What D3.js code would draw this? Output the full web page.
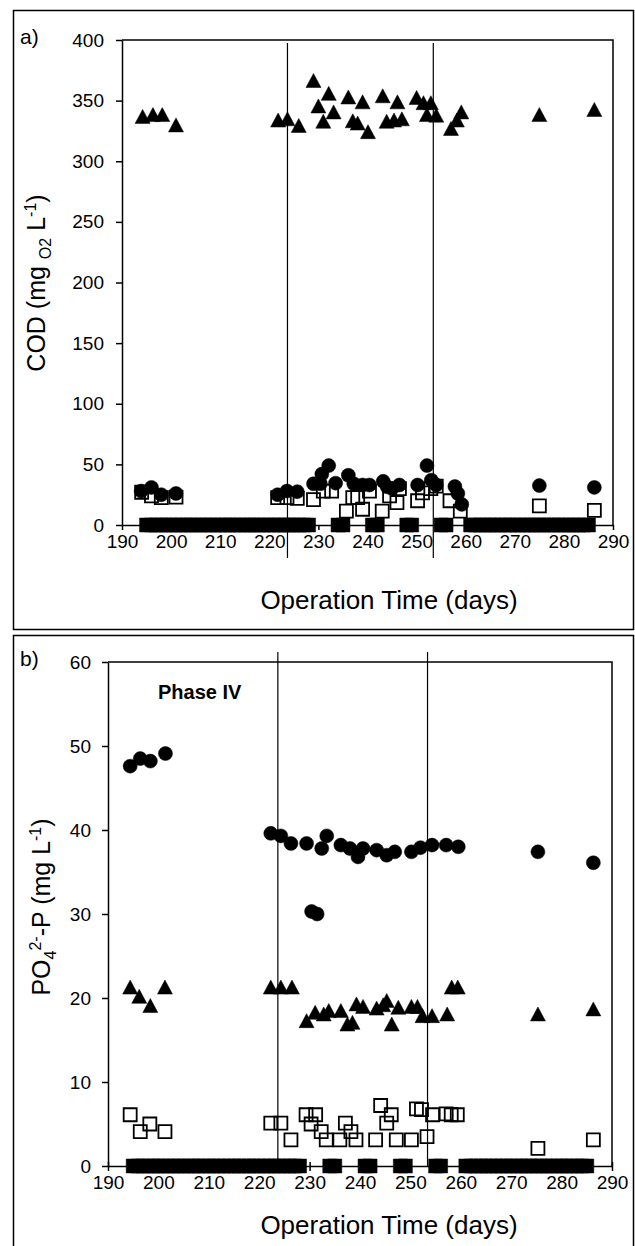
<!DOCTYPE html>
<html>
<head>
<meta charset="utf-8">
<script src="https://cdnjs.cloudflare.com/ajax/libs/d3/7.8.5/d3.min.js"></script>
<style>
body { margin: 0; background: #fff; }
svg { display: block; font-family: "Liberation Sans", Arial, sans-serif; }
</style>
</head>
<body>
<svg id="chart" width="635" height="1246"></svg>
<script>
// ---- data ----
const xTicks = [190, 200, 210, 220, 230, 240, 250, 260, 270, 280, 290];
const codTicks = [0, 50, 100, 150, 200, 250, 300, 350, 400];
const po4Ticks = [0, 10, 20, 30, 40, 50, 60];
const phaseLines = [223.7, 253.4];

// filled squares sitting on zero (same days in both panels)
const zeroDays = [195, 196, 197, 198, 199, 200, 201, 202, 203, 204, 205, 206, 207, 208, 209, 210, 211,
    212, 213, 214, 215, 216, 217, 218, 219, 220, 221, 222, 223, 224, 225, 226, 227, 228,
    234, 235, 241, 242, 248, 249, 255, 256,
    261, 262, 263, 264, 265, 266, 267, 268, 269, 270, 271, 272, 273, 274, 275, 276, 277,
    278, 279, 280, 281, 282, 283, 284, 285];

// a) COD
const codTriDays = [194.2, 196.3, 198.2, 201, 221.8, 223.7, 226, 229, 230, 231, 232.1, 233.1, 236.1, 237, 238,
    239, 240.1, 243.1, 243.9, 245.4, 246.1, 247, 250, 251.4, 252.1, 252.9, 254, 257, 258.2, 259.1, 275, 286.2];
const codTriVals = [337, 338.5, 338.5, 330, 334, 335, 329.5, 366.6, 345.6, 333, 356, 340.7, 353, 333.4, 331.5,
    349, 324.4, 354, 333, 334, 349, 335, 352.6, 348.3, 338.5, 348.3, 338, 327, 334, 340.7, 338.5, 342.7];

const codCircDays = [193.9, 196, 198, 201, 221.7, 223.6, 225.7, 229, 230.4, 230.7, 232.1, 233.5, 236.1, 237.2,
    239, 240.4, 243.2, 244, 245, 246.5, 250.2, 252.1, 253, 254, 257.8, 258.4, 259.2, 275, 286.2];
const codCircVals = [28, 31, 25, 26, 25, 28, 27.5, 34, 34, 42, 49, 34.5, 41, 34,
    33, 33, 36, 31.5, 30, 33, 33, 49, 37, 33, 31.7, 26, 17, 32.5, 31];

const codSqDays = [194, 196, 198, 201, 221.7, 223.6, 225.7, 229, 231, 232.7, 235.7, 237, 238, 239, 240.4,
    243, 244.5, 246, 246.5, 250.2, 251.2, 252.9, 254, 256.8, 258.9, 275, 286.2];
const codSqVals = [27, 24, 22.5, 23, 22.5, 22.5, 22, 21, 28, 28, 11.4, 22.5, 22.5, 13, 28,
    11.4, 24, 18.5, 30, 20, 26.5, 30, 32, 20, 11.4, 15.7, 12];

// b) PO4-P
const poCircDays = [194.4, 196.4, 198.4, 201.4, 222.3, 224.3, 226.3, 229.4, 230.4, 231.5, 232.4, 233.4,
    236.2, 238, 239.6, 240.6, 243.3, 245.3, 246.9, 250.2, 252, 254.3, 257.1, 259.5, 275.3, 286.3];
const poCircVals = [47.6, 48.5, 48.2, 49.1, 39.6, 39.3, 38.4, 38.4, 30.3, 30, 37.8, 39.3,
    38.2, 37.8, 36.8, 37.8, 37.6, 37, 37.4, 37.4, 37.9, 38.2, 38.2, 38, 37.4, 36.1];

const poTriDays = [194.4, 196.2, 198.4, 201.3, 222.3, 224.3, 226.5, 229.4, 231.1, 232.8, 233.8, 236.2, 237.5,
    238.5, 239.3, 240.6, 243.3, 244.6, 245.3, 246.3, 247.6, 250.2, 251.4, 252.4, 254.3, 257.3, 258.2, 259.4,
    275.3, 286.3];
const poTriVals = [21.3, 20.2, 19.1, 21.3, 21.3, 21.3, 21.3, 17.3, 18.3, 18.1, 18.5, 18.5, 16.9,
    17.1, 19.3, 19, 18.8, 19.2, 19.7, 16.9, 18.9, 19, 19, 17.9, 17.9, 18.1, 21.3, 21.3,
    18.1, 18.7];

const poSqDays = [194.4, 196.4, 198.3, 201.3, 222.3, 224.3, 226.3, 229.3, 230.3, 231.2, 232.3, 233.3, 236,
    237.1, 238.2, 239.2, 243.1, 244.1, 245.3, 246.2, 247.2, 250.2, 251.2, 252.2, 253.3, 254.4, 257.1, 258.1,
    259.3, 275.3, 286.3];
const poSqVals = [6.1, 4.1, 5, 4.1, 5.1, 5.1, 3.1, 6.1, 5, 6.1, 4.1, 3.1, 3.1,
    5.1, 4.1, 3.1, 3.1, 7.2, 5.1, 6.1, 3.1, 3.1, 6.8, 6.7, 3.5, 6.1, 6.2, 6.1,
    6.1, 2.1, 3.1];

const svg = d3.select('svg#chart');

// marker paths centred on (0,0)
const marker = {
    tri: 'M0,-7 L7.5,7 L-7.5,7 Z',
    circ: d3.symbol().type(d3.symbolCircle).size(Math.PI * 7 * 7)(),
    sq: 'M-6.5,-6.5 H6.5 V6.5 H-6.5 Z',
    zero: 'M-7,-7 H7 V7 H-7 Z',
};

const drawSeries = (g, x, y, days, vals, kind) => {
    const pts = days.map((d, i) => [d, vals[i]]);
    g.append('g').selectAll('path').data(pts).enter().append('path')
        .attr('d', marker[kind])
        .attr('transform', d => 'translate(' + x(d[0]) + ',' + y(d[1]) + ')')
        .attr('fill', kind == 'sq' ? 'none' : '#000')
        .attr('stroke', '#000')
        .attr('stroke-width', kind == 'sq' ? 1.8 : 0.5);
};

const drawPanel = (cfg) => {
    const g = svg.append('g');
    const x = d3.scaleLinear().domain([190, 290]).range([cfg.left, cfg.right]);
    const y = d3.scaleLinear().domain(cfg.yDomain).range([cfg.bottom, cfg.top]);

    // outer frame
    g.append('rect')
        .attr('x', 13.5).attr('y', cfg.boxTop)
        .attr('width', 620).attr('height', cfg.boxHeight)
        .attr('fill', 'none').attr('stroke', '#000').attr('stroke-width', 1.5);

    // plot area top / right border
    g.append('path')
        .attr('d', 'M' + cfg.left + ',' + cfg.top + 'H' + cfg.right + 'V' + cfg.bottom)
        .attr('fill', 'none').attr('stroke', '#000').attr('stroke-width', 1.5);

    const yAxis = g.append('g')
        .attr('transform', 'translate(' + cfg.left + ',0)')
        .call(d3.axisLeft(y).tickValues(cfg.yTicks).tickSize(6).tickSizeOuter(0).tickPadding(cfg.yPad));
    const xAxis = g.append('g')
        .attr('transform', 'translate(0,' + cfg.bottom + ')')
        .call(d3.axisBottom(x).tickValues(xTicks).tickSize(5).tickSizeOuter(0).tickPadding(5));
    xAxis.selectAll('.tick line').attr('y1', cfg.tickIn);
    [xAxis, yAxis].forEach(a => {
        a.attr('font-family', null).attr('font-size', null);
        a.selectAll('text').attr('font-size', 19).attr('fill', '#000');
        a.selectAll('line, path').attr('stroke', '#000').attr('stroke-width', 1.5);
    });

    // phase boundaries
    g.append('g').selectAll('line').data(phaseLines).enter().append('line')
        .attr('x1', d => x(d)).attr('x2', d => x(d))
        .attr('y1', cfg.lineTop).attr('y2', cfg.lineBottom)
        .attr('stroke', '#000').attr('stroke-width', 1.2);

    cfg.series.forEach(s => drawSeries(g, x, y, s[0], s[1], s[2]));

    // panel letter
    g.append('text').attr('x', 20).attr('y', cfg.top + 4)
        .attr('font-size', 21).text(cfg.letter);

    // x title
    g.append('text').attr('x', 389).attr('y', cfg.titleY)
        .attr('text-anchor', 'middle').attr('font-size', 26)
        .text('Operation Time (days)');

    // y title with sub/superscripts
    const yt = g.append('text')
        .attr('transform', 'translate(' + cfg.yLabelX + ',' + cfg.yLabelY + ') rotate(-90)')
        .attr('text-anchor', 'middle').attr('font-size', 25);
    cfg.yLabel.forEach(p => {
        yt.append('tspan').attr('dy', p[1]).attr('font-size', p[2] || null).text(p[0]);
    });
    return g;
};

// a) COD panel
drawPanel({
    letter: 'a)', boxTop: 10.5, boxHeight: 619,
    left: 122, right: 613, top: 40, bottom: 525,
    yDomain: [0, 400], yTicks: codTicks, yPad: 12, tickIn: 0,
    lineTop: 43, lineBottom: 558, titleY: 609, yLabelX: 45, yLabelY: 283,
    yLabel: [['COD (mg ', 0], ['O2', 6, 16], [' L', -6], ['-1', -9, 16], [')', 9]],
    series: [
        [zeroDays, zeroDays.map(() => 0), 'zero'],
        [codSqDays, codSqVals, 'sq'],
        [codTriDays, codTriVals, 'tri'],
        [codCircDays, codCircVals, 'circ'],
    ],
});

// b) PO4-P panel
const pb = drawPanel({
    letter: 'b)', boxTop: 635.5, boxHeight: 640,
    left: 108, right: 612, top: 662, bottom: 1166,
    yDomain: [0, 60], yTicks: po4Ticks, yPad: 11, tickIn: -4,
    lineTop: 652, lineBottom: 1166, titleY: 1234, yLabelX: 50, yLabelY: 907,
    yLabel: [['PO', 0], ['4', 6, 16], ['2-', -15, 16], ['-P (mg L', 9], ['-1', -9, 16], [')', 9]],
    series: [
        [zeroDays, zeroDays.map(() => 0), 'zero'],
        [poSqDays, poSqVals, 'sq'],
        [poTriDays, poTriVals, 'tri'],
        [poCircDays, poCircVals, 'circ'],
    ],
});

pb.append('text').attr('x', 158).attr('y', 699)
    .attr('font-size', 20).attr('font-weight', 'bold').text('Phase IV');
</script>
</body>
</html>
